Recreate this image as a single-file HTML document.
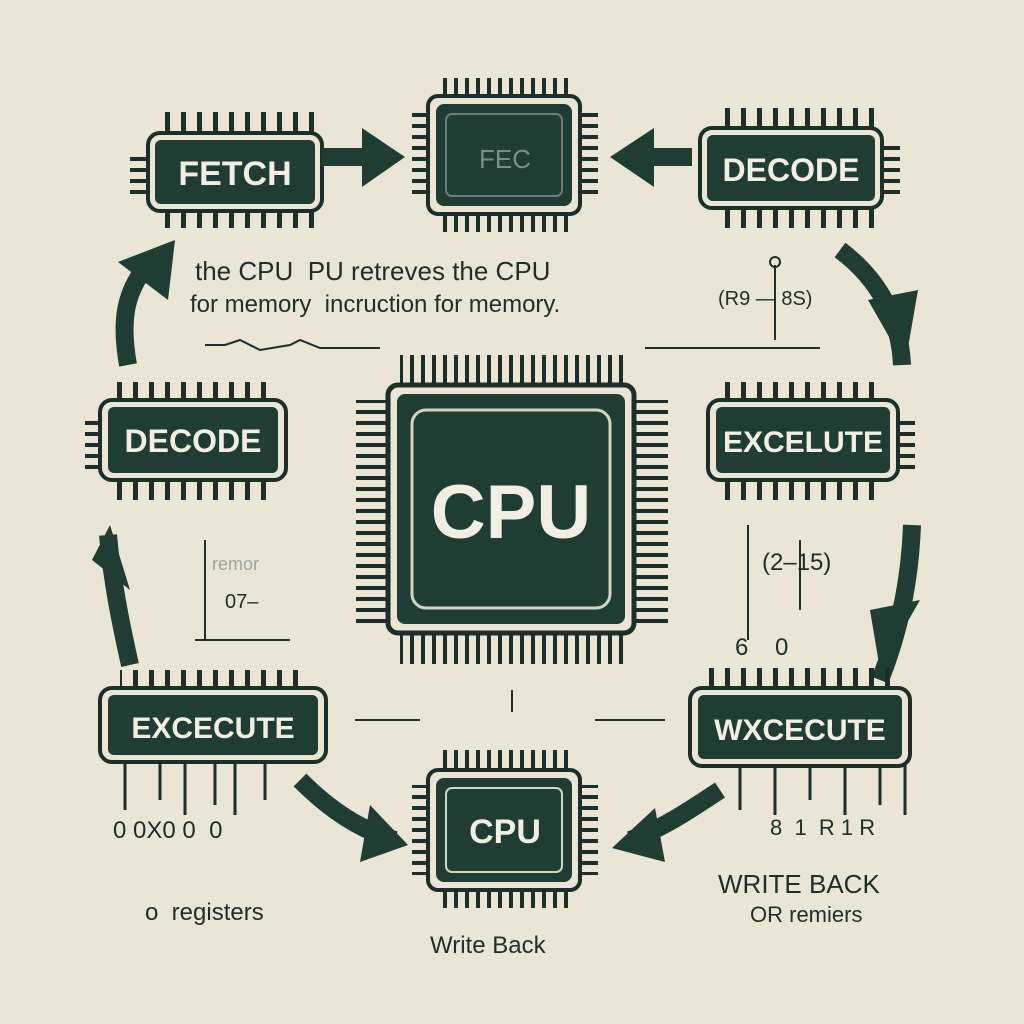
<!DOCTYPE html>
<html><head><meta charset="utf-8"><style>
html,body{margin:0;padding:0;background:#ebe5d5;}
svg{display:block}
text{font-family:"Liberation Sans","DejaVu Sans",sans-serif;}
</style></head><body>
<svg width="1024" height="1024" viewBox="0 0 1024 1024" xmlns="http://www.w3.org/2000/svg">
<defs>
<pattern id="pv" width="16" height="10" patternUnits="userSpaceOnUse"><rect x="5" y="0" width="5" height="10" fill="#1c2f29"/></pattern>
<pattern id="pv2" width="11" height="10" patternUnits="userSpaceOnUse"><rect x="3" y="0" width="4" height="10" fill="#1c2f29"/></pattern>
<pattern id="ph" width="10" height="11" patternUnits="userSpaceOnUse"><rect x="0" y="3" width="10" height="4" fill="#1c2f29"/></pattern>
</defs>
<rect width="1024" height="1024" fill="#ebe5d5"/>
<g fill="none" stroke="#1c2f29" stroke-width="4">
</g>

<!-- FETCH chip -->
<rect x="165" y="112" width="150" height="24" fill="url(#pv)"/>
<rect x="160" y="208" width="158" height="20" fill="url(#pv)"/>
<rect x="130" y="150" width="20" height="50" fill="url(#ph)"/>
<rect x="148" y="133" width="174" height="78" rx="12" fill="#ebe5d5" stroke="#1c2f29" stroke-width="4"/>
<rect x="155" y="140" width="160" height="64" rx="6" fill="#1f3d33"/>
<text x="235" y="185" font-size="34" font-weight="bold" fill="#f2eee2" text-anchor="middle">FETCH</text>

<!-- arrow fetch -> center -->
<rect x="322" y="148" width="50" height="18" fill="#1f3d33"/>
<polygon points="362,128 405,157 362,187" fill="#1f3d33"/>

<!-- top center chip -->
<rect x="440" y="78" width="130" height="20" fill="url(#pv2)"/>
<rect x="440" y="212" width="130" height="20" fill="url(#pv2)"/>
<rect x="412" y="110" width="20" height="90" fill="url(#ph)"/>
<rect x="578" y="110" width="20" height="90" fill="url(#ph)"/>
<rect x="428" y="96" width="152" height="118" rx="10" fill="#ebe5d5" stroke="#1c2f29" stroke-width="4"/>
<rect x="436" y="104" width="136" height="102" rx="8" fill="#1f3d33"/>
<rect x="446" y="114" width="116" height="82" rx="6" fill="none" stroke="#6b7d74" stroke-width="2"/>
<text x="505" y="168" font-size="26" fill="#7d8c84" text-anchor="middle">FEC</text>

<!-- arrow decode -> center -->
<rect x="640" y="148" width="52" height="18" fill="#1f3d33"/>
<polygon points="654,128 610,157 654,187" fill="#1f3d33"/>

<!-- DECODE top right -->
<rect x="715" y="108" width="160" height="22" fill="url(#pv)"/>
<rect x="715" y="206" width="160" height="22" fill="url(#pv)"/>
<rect x="880" y="145" width="20" height="55" fill="url(#ph)"/>
<rect x="700" y="128" width="182" height="80" rx="12" fill="#ebe5d5" stroke="#1c2f29" stroke-width="4"/>
<rect x="707" y="135" width="168" height="66" rx="6" fill="#1f3d33"/>
<text x="791" y="181" font-size="32" font-weight="bold" fill="#f2eee2" text-anchor="middle">DECODE</text>

<!-- curved arrows -->
<path d="M128,365 C120,320 125,290 150,262" fill="none" stroke="#1f3d33" stroke-width="18"/>
<polygon points="118,262 175,240 168,300" fill="#1f3d33"/>
<path d="M840,250 C880,280 900,320 902,365" fill="none" stroke="#1f3d33" stroke-width="18"/>
<polygon points="868,300 918,290 905,365" fill="#1f3d33"/>
<path d="M130,665 C120,620 112,580 108,535" fill="none" stroke="#1f3d33" stroke-width="18"/>
<polygon points="92,560 110,525 130,590" fill="#1f3d33"/>
<path d="M880,680 C900,630 910,580 912,525" fill="none" stroke="#1f3d33" stroke-width="18"/>
<polygon points="870,610 920,600 880,670" fill="#1f3d33"/>
<path d="M300,780 C330,810 360,830 395,840" fill="none" stroke="#1f3d33" stroke-width="18"/>
<polygon points="370,805 408,845 360,862" fill="#1f3d33"/>
<path d="M720,790 C690,810 660,830 630,840" fill="none" stroke="#1f3d33" stroke-width="18"/>
<polygon points="655,808 612,848 665,862" fill="#1f3d33"/>

<!-- text middle -->
<text x="195" y="280" font-size="26" fill="#1c2f29">the CPU&#160;&#160;PU retreves the CPU</text>
<text x="190" y="312" font-size="24" fill="#1c2f29">for memory&#160;&#160;incruction for memory.</text>
<text x="718" y="305" font-size="20" fill="#1c2f29">(R9 — 8S)</text>
<path d="M775,265 V340 M645,348 H820" stroke="#1c2f29" stroke-width="2" fill="none"/>
<circle cx="775" cy="262" r="5" fill="none" stroke="#1c2f29" stroke-width="2"/>
<path d="M205,345 H225 L240,340 L260,350 L290,345 L300,340 L320,348 H380" stroke="#1c2f29" stroke-width="2" fill="none"/>

<!-- DECODE left -->
<rect x="115" y="382" width="160" height="22" fill="url(#pv)"/>
<rect x="115" y="478" width="160" height="22" fill="url(#pv)"/>
<rect x="85" y="415" width="20" height="55" fill="url(#ph)"/>
<rect x="100" y="400" width="186" height="80" rx="12" fill="#ebe5d5" stroke="#1c2f29" stroke-width="4"/>
<rect x="108" y="407" width="170" height="66" rx="6" fill="#1f3d33"/>
<text x="193" y="452" font-size="32" font-weight="bold" fill="#f2eee2" text-anchor="middle">DECODE</text>

<!-- EXCELUTE right -->
<rect x="720" y="382" width="160" height="22" fill="url(#pv)"/>
<rect x="720" y="478" width="160" height="22" fill="url(#pv)"/>
<rect x="895" y="415" width="20" height="55" fill="url(#ph)"/>
<rect x="708" y="400" width="190" height="80" rx="12" fill="#ebe5d5" stroke="#1c2f29" stroke-width="4"/>
<rect x="716" y="407" width="174" height="66" rx="6" fill="#1f3d33"/>
<text x="803" y="452" font-size="30" font-weight="bold" fill="#f2eee2" text-anchor="middle">EXCELUTE</text>

<!-- center CPU -->
<rect x="400" y="355" width="225" height="32" fill="url(#pv2)"/>
<rect x="400" y="632" width="225" height="32" fill="url(#pv2)"/>
<rect x="356" y="400" width="36" height="225" fill="url(#ph)"/>
<rect x="632" y="400" width="36" height="225" fill="url(#ph)"/>
<rect x="388" y="385" width="246" height="248" rx="10" fill="#ebe5d5" stroke="#1c2f29" stroke-width="5"/>
<rect x="397" y="394" width="228" height="230" rx="8" fill="#1f3d33"/>
<rect x="412" y="410" width="198" height="198" rx="14" fill="#1f3d33" stroke="#d7d3c4" stroke-width="3"/>
<text x="511" y="538" font-size="76" font-weight="bold" fill="#f2eee2" text-anchor="middle">CPU</text>

<!-- side annotations -->
<path d="M205,540 V640 M195,640 H290" stroke="#1c2f29" stroke-width="2" fill="none"/>
<text x="212" y="570" font-size="18" fill="#9aa39c">remor</text>
<text x="225" y="608" font-size="20" fill="#1c2f29">07–</text>
<path d="M748,525 V640 M800,540 V610" stroke="#1c2f29" stroke-width="2" fill="none"/>
<text x="762" y="570" font-size="24" fill="#1c2f29">(2–15)</text>
<text x="735" y="655" font-size="24" fill="#1c2f29">6&#160;&#160;&#160;&#160;0</text>
<path d="M355,720 H420 M595,720 H665 M512,690 V712" stroke="#1c2f29" stroke-width="2" fill="none"/>

<!-- EXCECUTE left bottom -->
<rect x="120" y="670" width="180" height="22" fill="url(#pv)"/>
<path d="M125,760 V810 M160,760 V800 M185,760 V815 M215,760 V805 M235,760 V815 M265,760 V800" stroke="#1c2f29" stroke-width="3"/>
<rect x="100" y="688" width="226" height="74" rx="12" fill="#ebe5d5" stroke="#1c2f29" stroke-width="4"/>
<rect x="108" y="695" width="210" height="60" rx="6" fill="#1f3d33"/>
<text x="213" y="738" font-size="30" font-weight="bold" fill="#f2eee2" text-anchor="middle">EXCECUTE</text>
<text x="113" y="838" font-size="24" fill="#1c2f29">0 0X0 0&#160;&#160;0</text>

<!-- WXCECUTE right bottom -->
<rect x="700" y="668" width="200" height="22" fill="url(#pv)"/>
<path d="M740,765 V810 M775,765 V815 M810,765 V800 M845,765 V815 M880,765 V805 M905,765 V815" stroke="#1c2f29" stroke-width="3"/>
<rect x="690" y="688" width="220" height="78" rx="12" fill="#ebe5d5" stroke="#1c2f29" stroke-width="4"/>
<rect x="698" y="695" width="204" height="64" rx="6" fill="#1f3d33"/>
<text x="800" y="740" font-size="30" font-weight="bold" fill="#f2eee2" text-anchor="middle">WXCECUTE</text>
<text x="770" y="835" font-size="22" fill="#1c2f29">8&#160;&#160;1&#160;&#160;R 1 R</text>

<!-- bottom CPU -->
<rect x="440" y="750" width="130" height="22" fill="url(#pv2)"/>
<rect x="440" y="888" width="130" height="20" fill="url(#pv2)"/>
<rect x="412" y="785" width="20" height="90" fill="url(#ph)"/>
<rect x="578" y="785" width="20" height="90" fill="url(#ph)"/>
<rect x="428" y="770" width="152" height="120" rx="10" fill="#ebe5d5" stroke="#1c2f29" stroke-width="4"/>
<rect x="436" y="778" width="136" height="104" rx="8" fill="#1f3d33"/>
<rect x="446" y="788" width="116" height="84" rx="6" fill="none" stroke="#d7d3c4" stroke-width="2"/>
<text x="505" y="843" font-size="34" font-weight="bold" fill="#f2eee2" text-anchor="middle">CPU</text>

<!-- bottom texts -->
<text x="145" y="920" font-size="24" fill="#1c2f29">o&#160;&#160;registers</text>
<text x="430" y="953" font-size="24" fill="#1c2f29">Write Back</text>
<text x="718" y="893" font-size="26" fill="#1c2f29">WRITE BACK</text>
<text x="750" y="922" font-size="22" fill="#1c2f29">OR remiers</text>
</svg>
</body></html>
